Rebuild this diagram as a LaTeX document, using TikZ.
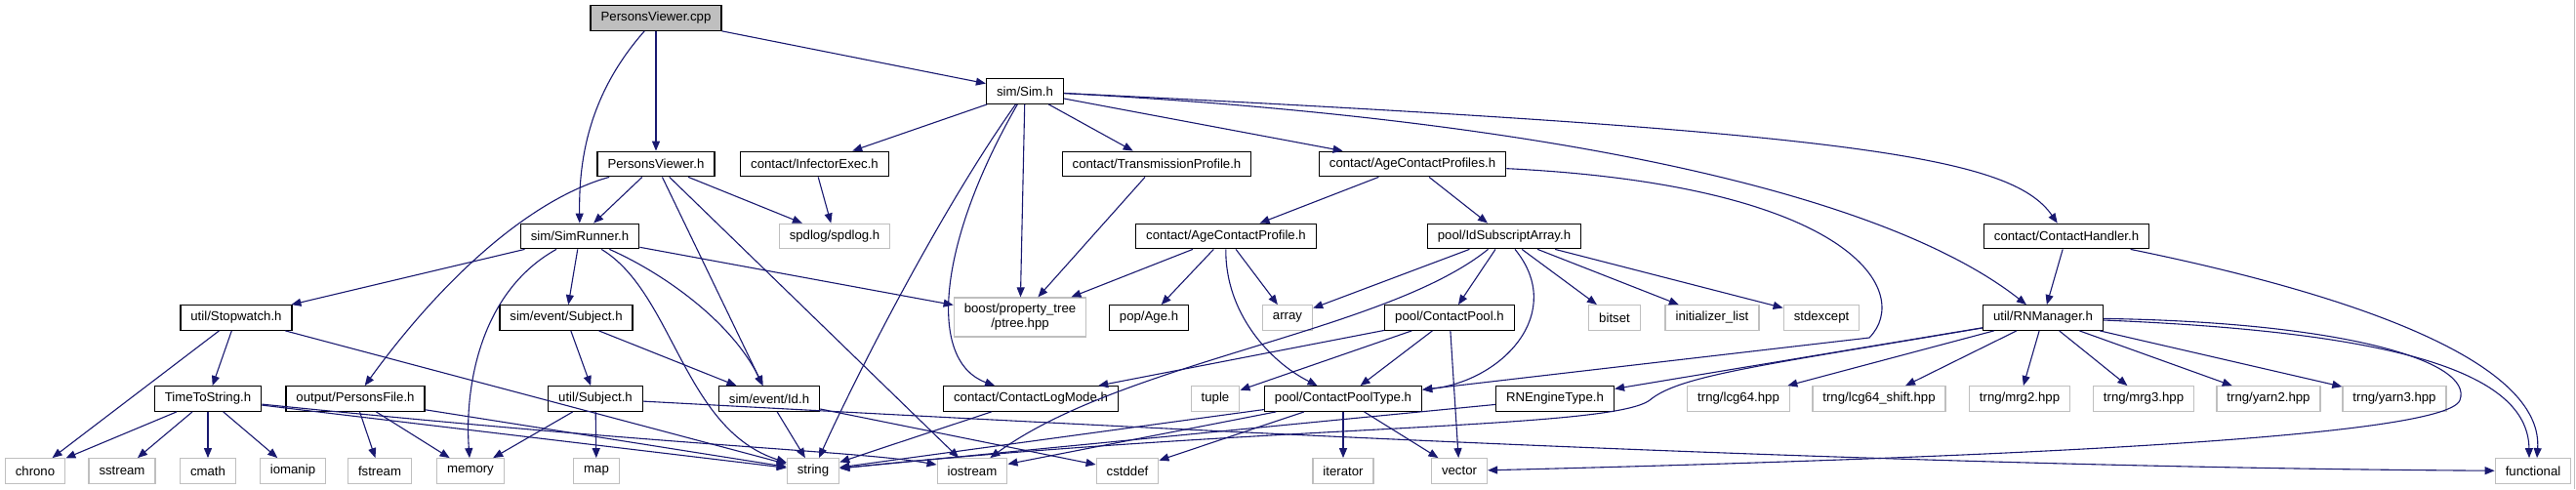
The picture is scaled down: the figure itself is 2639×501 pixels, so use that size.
\documentclass[tikz,border=0pt]{standalone}
\usepackage{fontspec}
\setmainfont{Liberation Sans}
\usepackage{tikz}
\usetikzlibrary{arrows.meta}
\definecolor{Edge}{HTML}{191970}
\definecolor{SysGray}{HTML}{BFBFBF}
\definecolor{RootGray}{HTML}{BFBFBF}

\begin{document}
\begin{tikzpicture}[
  x=1pt,y=-1pt,
  every node/.style={font=\fontsize{13.2}{15}\selectfont},
  inc/.style={draw=black,line width=1.3pt,fill=white,minimum height=25.5pt,inner xsep=10.5pt,inner ysep=0pt},
  sys/.style={inc,draw=SysGray},
  root/.style={inc,fill=RootGray},
  dep/.style={-{Triangle[length=10pt,width=8pt]},line width=1.1pt,draw=Edge,fill=none}
]
\path[fill=white,use as bounding box] (0,0) rectangle (2639,501);
\draw[SysGray,line width=1.5pt] (2637.5,0) -- (2637.5,501);

\node[root] (pvcpp) at (672,18.5) {PersonsViewer.cpp};
\node[inc] (sim) at (1050,93.5) {sim/Sim.h};
\node[inc] (pvh) at (672,168) {PersonsViewer.h};
\node[inc] (infector) at (834.5,168) {contact/InfectorExec.h};
\node[inc] (transprof) at (1185,168) {contact/TransmissionProfile.h};
\node[inc] (ageprofs) at (1447,168) {contact/AgeContactProfiles.h};
\node[inc] (simrunner) at (594,242) {sim/SimRunner.h};
\node[sys] (spdlog) at (855,242) {spdlog/spdlog.h};
\node[inc] (ageprof) at (1256,242) {contact/AgeContactProfile.h};
\node[inc] (idsub) at (1541,242) {pool/IdSubscriptArray.h};
\node[inc] (handler) at (2117,242) {contact/ContactHandler.h};
\node[inc] (stopwatch) at (242,325.5) {util/Stopwatch.h};
\node[inc] (evsubject) at (580,325.5) {sim/event/Subject.h};
\node[sys,align=center,minimum height=40pt] (ptree) at (1045,325) {boost/property\_tree\\/ptree.hpp};
\node[inc] (age) at (1177,325.5) {pop/Age.h};
\node[sys] (array) at (1319,325.5) {array};
\node[inc] (pool) at (1485,325.5) {pool/ContactPool.h};
\node[sys] (bitset) at (1654,325.5) {bitset};
\node[sys] (initlist) at (1754,325.5) {initializer\_list};
\node[sys] (stdexcept) at (1866,325.5) {stdexcept};
\node[inc] (rnman) at (2093,325.5) {util/RNManager.h};
\node[inc] (timestr) at (213,408.5) {TimeToString.h};
\node[inc] (pfile) at (364,408.5) {output/PersonsFile.h};
\node[inc] (usubject) at (610,408.5) {util/Subject.h};
\node[inc] (evid) at (788,408.5) {sim/event/Id.h};
\node[inc] (logmode) at (1056,408.5) {contact/ContactLogMode.h};
\node[sys] (tuple) at (1245,408.5) {tuple};
\node[inc] (pooltype) at (1376,408.5) {pool/ContactPoolType.h};
\node[inc] (rneng) at (1593,408.5) {RNEngineType.h};
\node[sys] (lcg) at (1781,408.5) {trng/lcg64.hpp};
\node[sys] (lcgs) at (1925,408.5) {trng/lcg64\_shift.hpp};
\node[sys] (mrg2) at (2069,408.5) {trng/mrg2.hpp};
\node[sys] (mrg3) at (2196,408.5) {trng/mrg3.hpp};
\node[sys] (yarn2) at (2324,408.5) {trng/yarn2.hpp};
\node[sys] (yarn3) at (2453,408.5) {trng/yarn3.hpp};
\node[sys] (chrono) at (36,482.5) {chrono};
\node[sys] (sstream) at (125,482.5) {sstream};
\node[sys] (cmath) at (213,482.5) {cmath};
\node[sys] (iomanip) at (300,482.5) {iomanip};
\node[sys] (fstream) at (389,482.5) {fstream};
\node[sys] (memory) at (482,482.5) {memory};
\node[sys] (map) at (611,482.5) {map};
\node[sys] (string) at (833,482.5) {string};
\node[sys] (iostream) at (996,482.5) {iostream};
\node[sys] (cstddef) at (1155,482.5) {cstddef};
\node[sys] (iterator) at (1376,482.5) {iterator};
\node[sys] (vector) at (1495,482.5) {vector};
\node[sys] (functional) at (2595,482.5) {functional};

\draw[dep] (pvcpp) .. controls (600,100) and (593,170) .. (simrunner);
\draw[dep] (pvcpp) -- (pvh);
\draw[dep] (pvcpp) -- (sim);
\draw[dep] (pvh) -- (simrunner);
\draw[dep] (pvh) .. controls (540,205) and (450,290) .. (pfile);
\draw[dep] (pvh) -- (spdlog);
\draw[dep] (pvh) -- (evid);
\draw[dep] (pvh) -- (iostream);
\draw[dep] (sim) -- (infector);
\draw[dep] (sim) -- (transprof);
\draw[dep] (sim) -- (ageprofs);
\draw[dep] (sim) .. controls (1900,135) and (2060,160) .. (handler);
\draw[dep] (sim) .. controls (1550,120) and (1920,190) .. (rnman);
\draw[dep] (sim) -- (ptree);
\draw[dep] (sim) .. controls (960,220) and (870,400) .. (string);
\draw[dep] (sim) .. controls (960,250) and (950,370) .. (logmode);
\draw[dep] (simrunner) -- (stopwatch);
\draw[dep] (simrunner) .. controls (490,300) and (476,400) .. (memory);
\draw[dep] (simrunner) -- (evsubject);
\draw[dep] (simrunner) .. controls (680,280) and (750,330) .. (evid);
\draw[dep] (simrunner) .. controls (690,300) and (700,440) .. (string);
\draw[dep] (simrunner) -- (ptree);
\draw[dep] (stopwatch) -- (chrono);
\draw[dep] (stopwatch) -- (timestr);
\draw[dep] (stopwatch) -- (string);
\draw[dep] (timestr) -- (chrono);
\draw[dep] (timestr) -- (sstream);
\draw[dep] (timestr) -- (cmath);
\draw[dep] (timestr) -- (iomanip);
\draw[dep] (timestr) -- (string);
\draw[dep] (timestr) .. controls (700,458) and (880,462) .. (iostream);
\draw[dep] (pfile) -- (fstream);
\draw[dep] (pfile) -- (memory);
\draw[dep] (pfile) -- (string);
\draw[dep] (evsubject) -- (usubject);
\draw[dep] (evsubject) -- (evid);
\draw[dep] (usubject) -- (memory);
\draw[dep] (usubject) -- (map);
\draw[dep] (usubject) .. controls (1200,440) and (1900,478) .. (functional);
\draw[dep] (evid) -- (string);
\draw[dep] (evid) -- (cstddef);
\draw[dep] (infector) -- (spdlog);
\draw[dep] (transprof) -- (ptree);
\draw[dep] (ageprofs) -- (ageprof);
\draw[dep] (ageprofs) -- (idsub);
\draw[dep] (ageprofs) .. controls (1900,190) and (1960,300) .. (1915,346) -- (pooltype);
\draw[dep] (ageprof) -- (ptree);
\draw[dep] (ageprof) -- (age);
\draw[dep] (ageprof) -- (array);
\draw[dep] (ageprof) .. controls (1255,320) and (1300,370) .. (pooltype);
\draw[dep] (idsub) -- (array);
\draw[dep] (idsub) .. controls (1420,340) and (1150,370) .. (iostream);
\draw[dep] (idsub) -- (pool);
\draw[dep] (idsub) .. controls (1605,320) and (1540,390) .. (pooltype);
\draw[dep] (idsub) -- (bitset);
\draw[dep] (idsub) -- (initlist);
\draw[dep] (idsub) -- (stdexcept);
\draw[dep] (pool) -- (logmode);
\draw[dep] (pool) -- (tuple);
\draw[dep] (pool) -- (pooltype);
\draw[dep] (pool) -- (vector);
\draw[dep] (logmode) -- (string);
\draw[dep] (pooltype) -- (string);
\draw[dep] (pooltype) -- (iostream);
\draw[dep] (pooltype) -- (cstddef);
\draw[dep] (pooltype) -- (iterator);
\draw[dep] (pooltype) -- (vector);
\draw[dep] (rneng) -- (string);
\draw[dep] (handler) -- (rnman);
\draw[dep] (handler) .. controls (2450,310) and (2605,380) .. ([xshift=4pt]functional.north);
\draw[dep] (rnman) -- (rneng);
\draw[dep] (rnman) -- (lcg);
\draw[dep] (rnman) -- (lcgs);
\draw[dep] (rnman) -- (mrg2);
\draw[dep] (rnman) -- (mrg3);
\draw[dep] (rnman) -- (yarn2);
\draw[dep] (rnman) -- (yarn3);
\draw[dep] (rnman) .. controls (1800,375) and (1720,385) .. (1690,410) .. controls (1650,440) and (1300,435) .. (string);
\draw[dep] (rnman) .. controls (2400,330) and (2535,370) .. (2520,410) .. controls (2505,450) and (2000,470) .. (vector);
\draw[dep] (rnman) .. controls (2450,340) and (2590,380) .. ([xshift=-4pt]functional.north);
\end{tikzpicture}
\end{document}
